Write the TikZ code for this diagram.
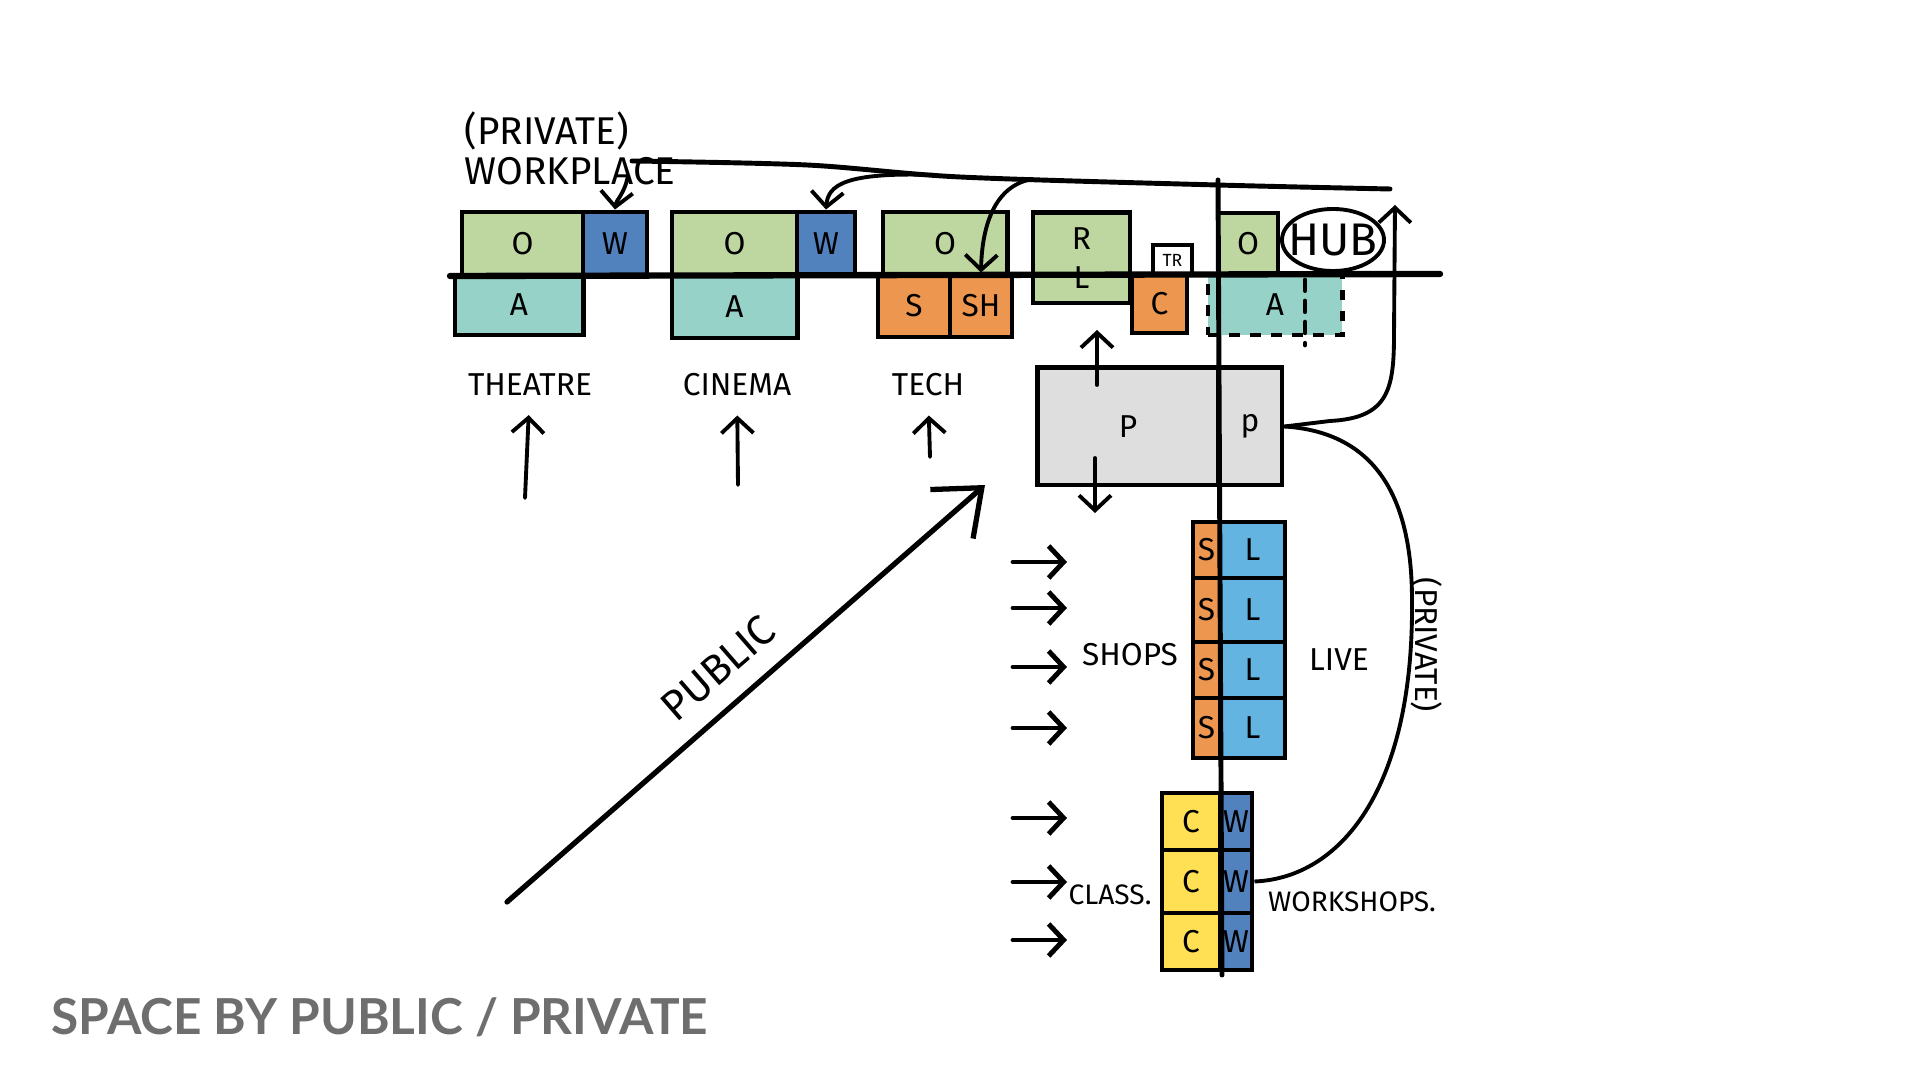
\documentclass[tikz,border=0pt]{standalone}
\usepackage{fontspec}
\setsansfont{Fira Sans}
\newfontfamily\titlefont{Lato}
\usetikzlibrary{arrows.meta,shapes.geometric,positioning}
\definecolor{officegreen}{RGB}{190,215,160}
\definecolor{workblue}{RGB}{82,130,190}
\definecolor{artteal}{RGB}{150,210,200}
\definecolor{shoporange}{RGB}{236,150,80}
\definecolor{liveblue}{RGB}{100,180,225}
\definecolor{classyellow}{RGB}{255,224,85}
\definecolor{parkgray}{RGB}{222,222,222}
\definecolor{titlegray}{RGB}{110,110,110}

\begin{document}
\begin{tikzpicture}[x=0.01cm,y=-0.01cm,
    cell/.style={draw,line width=1.4pt,inner sep=0pt,font=\sffamily\small},
    ink/.style={line width=1.4pt,line cap=round},
    pointer/.style={line width=1.1pt,line cap=round,-{Straight Barb[length=1.5mm,width=3.2mm]}},
    tag/.style={font=\sffamily\small,inner sep=1pt}]
  \useasboundingbox (0,0) rectangle (1920,1080);

  % Theatre
  \node[cell,fill=officegreen,minimum width=1.21cm,minimum height=0.63cm] (thO) at (522.5,243.5) {O};
  \node[cell,fill=workblue,minimum width=0.64cm,minimum height=0.63cm] (thW) at (615,243.5) {W};
  \node[cell,fill=artteal,minimum width=1.28cm,minimum height=0.60cm] (thA) at (519,305) {A};
  % Cinema
  \node[cell,fill=officegreen,minimum width=1.25cm,minimum height=0.63cm] (ciO) at (734.5,243.5) {O};
  \node[cell,fill=workblue,minimum width=0.58cm,minimum height=0.63cm] (ciW) at (826,243.5) {W};
  \node[cell,fill=artteal,minimum width=1.25cm,minimum height=0.63cm] (ciA) at (734.5,306.5) {A};
  % Tech
  \node[cell,fill=officegreen,minimum width=1.24cm,minimum height=0.63cm] (teO) at (945,243.5) {O};
  \node[cell,fill=shoporange,minimum width=0.72cm,minimum height=0.62cm] (teS) at (914,306) {S};
  \node[cell,fill=shoporange,minimum width=0.62cm,minimum height=0.62cm] (teSH) at (981,306) {SH};
  % R/L, C and the hub block
  \node[cell,fill=officegreen,minimum width=0.97cm,minimum height=0.90cm,align=center] (rl) at (1081.5,258) {R\\L};
  \node[cell,fill=white,minimum width=0.39cm,minimum height=0.30cm,font=\sffamily\tiny] (tr) at (1172.5,260) {TR};
  \node[cell,fill=shoporange,minimum width=0.55cm,minimum height=0.58cm] (co) at (1159.5,304) {C};
  \node[cell,fill=officegreen,minimum width=0.60cm,minimum height=0.62cm] (huO) at (1248,244) {O};
  \node[cell,dashed,fill=artteal,minimum width=1.34cm,minimum height=0.60cm] (huA) at (1275,305) {A};
  \draw[ink,dashed] (1305,280) -- (1305,345);
  \node[draw,ellipse,line width=1.1pt,minimum width=1.02cm,minimum height=0.62cm] (hub) at (1333,240) {};
  \node[font=\sffamily\fontsize{13pt}{14pt}\selectfont,inner sep=0pt] (hublab) at (hub) {HUB};
  % Parking
  \node[cell,fill=parkgray,minimum width=1.80cm,minimum height=1.17cm] (pk) at (1128,426.5) {P};
  \node[cell,fill=parkgray,minimum width=0.64cm,minimum height=1.17cm] (pp) at (1250,426.5) {p};
  % Shops and live
  \foreach \y/\h [count=\i] in {550/0.56,610/0.64,670/0.56,728/0.60}{
    \node[cell,fill=shoporange,minimum width=0.27cm,minimum height=\h cm] (s\i) at (1206.5,\y) {S};
    \node[cell,fill=liveblue,minimum width=0.65cm,minimum height=\h cm] (l\i) at (1252.5,\y) {L};
  }
  % Classes and workshops
  \foreach \y/\h [count=\i] in {821.5/0.57,881.5/0.63,941.5/0.57}{
    \node[cell,fill=classyellow,minimum width=0.58cm,minimum height=\h cm] (c\i) at (1191,\y) {C};
    \node[cell,fill=workblue,minimum width=0.32cm,minimum height=\h cm] (w\i) at (1236,\y) {W};
  }

  % Spine and horizon
  \coordinate (spineTop) at (1218,180);
  \coordinate (spineBot) at (1222,975);
  \coordinate (horizW) at (450,276);
  \coordinate (horizE) at (1440,274);
  \draw[ink] (spineTop) -- (spineBot);
  \draw[line width=1.8pt,line cap=round] (horizW) -- (horizE);

  % Labels
  \node[font=\sffamily\fontsize{11pt}{12pt}\selectfont,inner sep=0pt] (prlab) at (547,131) {(PRIVATE)};
  \node[font=\sffamily\fontsize{11pt}{12pt}\selectfont,inner sep=0pt] (wplab) at (570,171) {WORKPLACE};
  \node[tag] (thLab) at (530,385) {THEATRE};
  \node[tag] (ciLab) at (737,385) {CINEMA};
  \node[tag] (teLab) at (928,385) {TECH};
  \node[tag] (shops) at (1130,655) {SHOPS};
  \node[tag] (live) at (1339,660) {LIVE};
  \node[tag,font=\sffamily\footnotesize] (class) at (1110,895) {CLASS.};
  \node[tag,font=\sffamily\footnotesize] (works) at (1352,902) {WORKSHOPS.};
  \node[tag,rotate=-90] (privlab) at (1427,645) {(PRIVATE)};
  \node[tag,font=\sffamily\large,rotate=41] (publab) at (718,668) {PUBLIC};

  % Private workplace line and branches
  \coordinate (top1) at (632,161);
  \coordinate (top2) at (807,165);
  \coordinate (top3) at (960,177);
  \coordinate (top4) at (1217,185);
  \coordinate (top5) at (1390,189);
  \draw[ink] plot[smooth] coordinates {(top1) (top2) (top3) (top4) (top5)};
  \coordinate (wpDrop) at (628,176);
  \coordinate (br2) at (935,175);
  \coordinate (br3) at (1033,179);
  \draw[pointer] (wpDrop) .. controls (624,195) and (616,200) .. (thW.north);
  \draw[pointer] (br2) .. controls (845,172) and (828,185) .. (ciW.north);
  \draw[pointer] (br3) .. controls (995,185) and (982,225) .. (teSH.north);

  % Hub link and private link
  \coordinate (hubTip) at (1395,205);
  \draw[pointer] (pp.east) -- (1330,421) .. controls (1388,418) and (1394,390) .. (1394,335) -- (hubTip);
  \draw[line width=1.1pt] (pp.east) .. controls (1370,432) and (1412,490) .. (1412,600)
    .. controls (1414,790) and (1340,878) .. (w2.east);

  % Up and down from parking
  \coordinate (pkUp) at (1097,385);
  \coordinate (pkDown) at (1095,458);
  \draw[pointer] (pkUp) -- ++(0,-55);
  \draw[pointer] (pkDown) -- ++(0,55);

  % Entries
  \coordinate (thFoot) at (525,498);
  \coordinate (ciFoot) at (738,485);
  \coordinate (teFoot) at (930,457);
  \draw[pointer,shorten >=0.15cm] (thFoot) -- (thLab);
  \draw[pointer,shorten >=0.15cm] (ciFoot) -- (ciLab);
  \draw[pointer,shorten >=0.15cm] (teFoot) -- (teLab);
  \foreach \y [count=\i] in {562,608,667,728,818,882,940}{
    \coordinate (walk\i) at (1013,\y);
    \draw[pointer,line width=1.4pt] (walk\i) -- ++(54,0);
  }

  % Public
  \coordinate (pubFoot) at (507,902);
  \coordinate (pubTip) at (985,485);
  \draw[line width=1.5pt,line cap=round,-{Straight Barb[length=4mm,width=6.5mm]}] (pubFoot) -- (pubTip);

  \node[anchor=base west,inner sep=0pt,text=titlegray,font=\titlefont\bfseries\fontsize{14.1pt}{16pt}\selectfont] (title) at (51,1035) {SPACE BY PUBLIC / PRIVATE};
\end{tikzpicture}
\end{document}
